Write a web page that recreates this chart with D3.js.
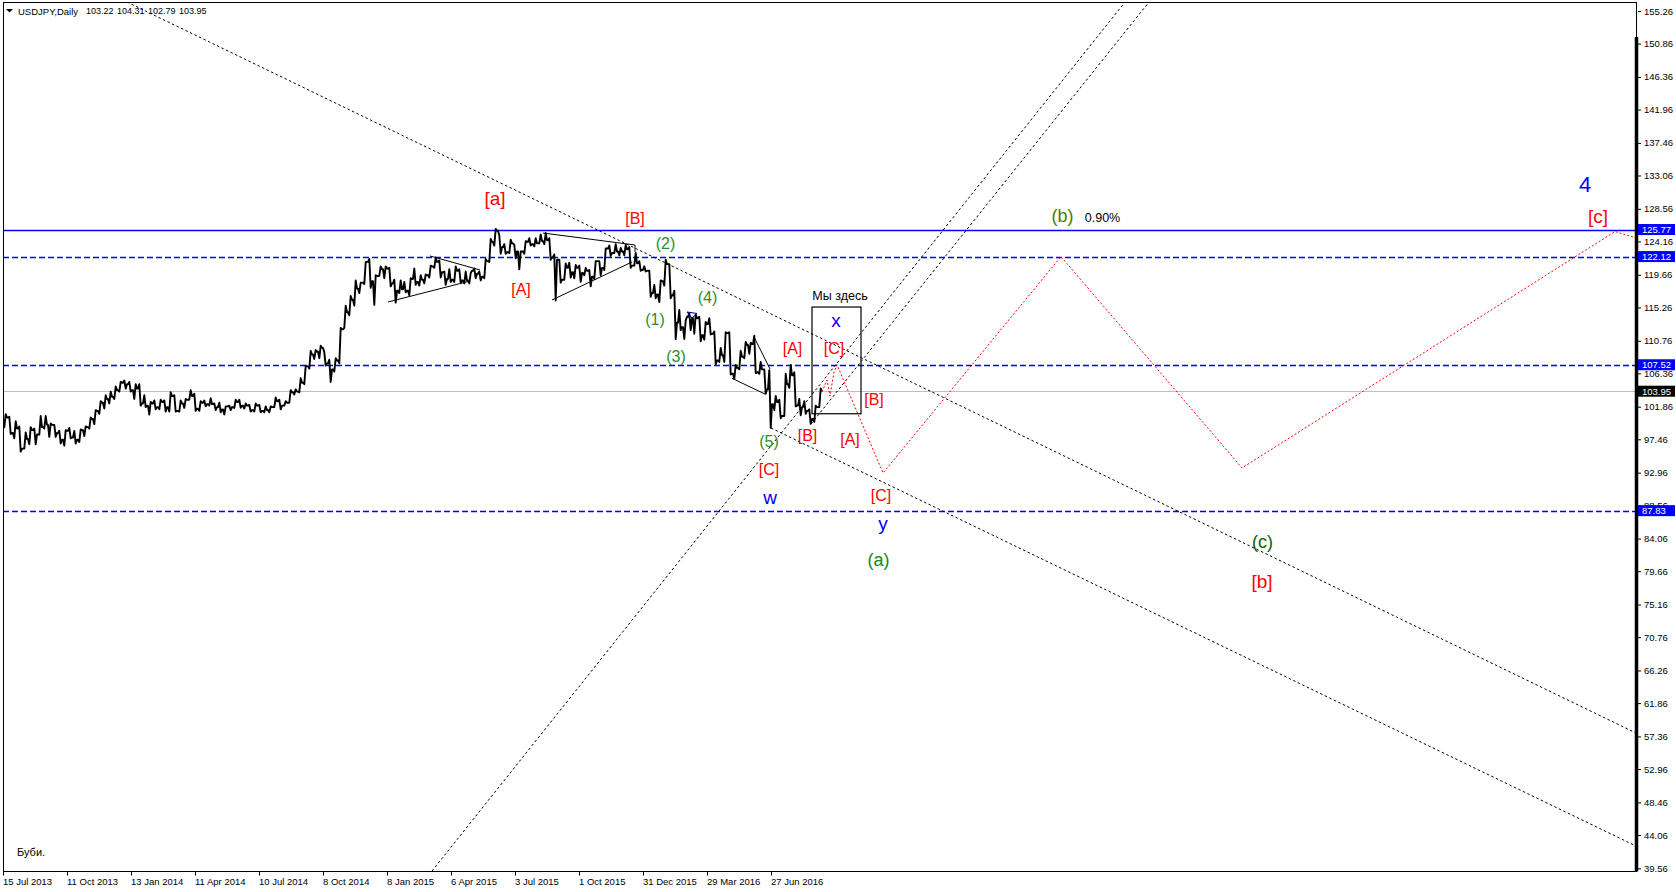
<!DOCTYPE html>
<html><head><meta charset="utf-8">
<script src="https://cdn.jsdelivr.net/npm/d3@7"></script>
<style>
body{margin:0;background:#fff}
svg{display:block}
text{font-family:"Liberation Sans",Arial,sans-serif}
</style>
</head><body>
<svg id="c" width="1676" height="892"></svg>
<script>
// ---------------- DATA ----------------
const symbolTitle = "USDJPY,Daily";
const headerOHLC = ["103.22","104.31","102.79","103.95"];
const firstOpen = 99.3; // open of the first week (15 Jul 2013)
// weekly high / low / close, one entry per week (5 daily bars), from 15 Jul 2013 to 2 Sep 2016
const weekHigh = [
 100.86,100.5,99.9,99.2,98.4,99.1,98.9,100.6,100.6,99.6,99.4,98.6,98.7,99.0,98.6,98.8,99.2,100.4,101.4,102.6,103.4,103.9,104.6,105.2,105.4,
 105.2,104.9,104.9,103.4,102.5,102.7,102.8,102.7,103.8,103.4,102.7,102.9,104.1,103.6,102.6,102.7,103.0,102.3,102.4,101.9,102.0,102.8,102.8,102.3,102.1,102.3,102.1,101.9,101.9,103.1,102.8,102.6,104.1,104.2,105.7,107.4,109.4,109.5,110.1,109.2,108.2,108.4,112.5,115.5,116.8,118.9,118.6,121.4,121.8,119.6,120.8,120.8,
 120.6,119.0,118.9,118.7,119.2,120.5,119.6,119.7,120.9,122.0,121.6,120.1,120.4,120.8,120.4,120.1,119.9,120.5,120.1,121.8,124.5,125.86,125.0,123.8,124.4,123.7,122.8,124.2,124.6,124.6,125.1,125.3,124.6,122.4,121.7,121.2,121.3,121.0,120.9,120.6,120.3,121.5,121.5,123.2,123.6,123.8,123.3,123.7,123.4,122.6,121.5,120.8,
 120.2,118.3,118.9,121.7,121.1,117.5,114.9,113.5,114.5,114.3,114.0,113.3,113.8,112.0,109.8,111.9,111.9,107.5,109.4,110.6,110.5,111.45,107.9,106.9,106.8,103.3,102.8,106.3,107.5,106.5,102.9,102.6,101.5,102.0,104.31
];
const weekLow = [
 99.08,98.2,97.6,95.8,96.2,96.8,96.8,98.1,98.9,97.8,97.8,96.9,96.6,97.6,96.9,97.1,97.9,98.9,99.5,100.9,101.6,102.3,102.9,103.9,104.3,
 103.9,102.9,102.0,101.8,100.8,101.5,101.5,101.2,101.2,101.2,101.2,101.7,102.8,101.3,101.3,101.9,102.0,101.4,101.1,100.8,101.4,101.7,101.7,101.6,101.2,101.2,101.1,101.1,101.1,101.8,101.5,102.0,102.4,103.5,103.8,104.9,107.0,108.3,108.4,107.4,105.2,106.6,107.7,112.5,114.2,115.5,117.2,118.4,117.9,115.6,119.5,119.2,
 118.1,115.9,117.2,117.3,116.9,118.3,118.2,118.5,119.3,120.6,119.3,118.3,118.7,118.7,118.6,118.5,118.5,119.2,118.9,119.2,121.4,123.6,122.5,122.5,122.6,121.9,120.4,122.5,123.6,123.5,123.9,123.8,121.7,116.2,118.6,119.0,119.3,119.2,118.7,119.6,118.1,119.1,119.6,120.3,122.2,122.6,122.3,122.3,120.6,120.9,120.2,120.1,
 116.7,116.5,115.97,118.2,116.5,110.98,112.2,111.0,112.2,111.7,110.7,110.9,111.6,107.6,107.9,107.9,106.2,105.6,106.9,108.4,109.0,106.4,106.3,103.6,99.0,101.4,100.3,100.6,104.4,101.9,100.7,100.9,99.55,99.8,101.8
];
const weekClose = [
 100.4,98.3,98.9,96.2,97.5,98.7,98.1,99.1,99.4,99.4,98.3,97.4,98.6,97.7,97.4,98.7,99.1,100.2,101.3,102.4,102.9,103.2,104.1,105.1,104.9,
 104.1,104.3,102.3,102.0,102.3,101.8,102.5,101.8,103.3,101.3,102.3,102.8,103.3,101.6,102.4,102.2,102.2,101.8,101.5,101.9,101.8,102.5,102.0,102.0,101.4,102.0,101.3,101.4,101.8,102.6,102.0,102.4,103.8,103.9,105.1,107.3,108.9,109.3,109.8,107.7,106.9,108.1,112.3,114.6,116.3,117.8,118.6,121.4,118.8,119.5,120.4,120.5,
 118.5,117.5,117.7,117.5,119.1,118.7,119.0,119.6,120.8,121.4,120.0,119.1,119.0,120.2,118.9,118.9,120.2,119.8,119.4,121.5,124.1,125.6,123.4,122.7,123.9,122.8,122.8,124.1,123.8,123.9,124.2,124.3,122.0,121.7,119.0,120.6,120.0,120.6,119.9,120.2,119.4,121.5,120.6,123.2,122.6,122.8,122.8,123.1,120.9,121.2,120.3,120.2,
 117.2,117.0,118.8,121.1,116.9,113.2,112.6,114.0,113.8,113.8,111.5,113.0,111.7,108.1,108.8,111.8,106.3,107.1,108.6,110.2,110.3,106.5,106.9,104.2,102.2,102.5,100.6,104.9,106.1,102.0,101.8,101.3,100.2,101.8,103.95
];

// price axis tick labels
const priceTicks = [155.26,150.86,146.36,141.96,137.46,133.06,128.56,124.16,119.66,115.26,110.76,106.36,101.86,97.46,92.96,88.56,84.06,79.66,75.16,70.76,66.26,61.86,57.36,52.96,48.46,44.06,39.56];
// time axis: bar index of each label and its text
const timeTickBars = [0,64,128,192,256,320,384,448,512,576,640,704,768];
const timeTickLabels = ["15 Jul 2013","11 Oct 2013","13 Jan 2014","11 Apr 2014","10 Jul 2014","8 Oct 2014","8 Jan 2015","6 Apr 2015","3 Jul 2015","1 Oct 2015","31 Dec 2015","29 Mar 2016","27 Jun 2016"];

// horizontal levels
const mainLevel = 125.77;
const dashLevels = [122.12, 107.52, 87.83];
const bidPrice = 103.95;

// trend lines as [bar, price] pairs
const channelLines = [
  [[124,156.47],[1633,57.82]],
  [[768,98.98],[1633,42.57]],
  [[429,39.20],[1122,156.47]],
  [[808,99.52],[1146,156.47]]
];
const triangleLines = [
  [[427,122.20],[477,120.31]],
  [[385,115.99],[467,118.82]],
  [[540,125.30],[632,123.68]],
  [[549,116.26],[629,121.39]],
  [[632,123.68],[632,122.74]],
  [[751,111.27],[767,106.95]],
  [[729,105.69],[762,103.57]]
];
const smallTriangle = [[684,114.64],[694,114.44],[689,113.83],[684,114.64]];
const hereBox = [[809,115.31],[858,100.91]];
// projected path
const projection = [[819,103.84],[824,105.46],[827,103.30],[831,106.54],[834,107.52],[880,92.91],[1058,122.12],[1239,93.59],[1612,125.5],[1633,124.63]];

// wave labels [text, bar, price]
const primaryLabels = [["[a]",492,130.02],["[b]",1259,78.27],["[c]",1595,127.59]];
const subLabels = [["[B]",632,127.19],["[A]",518,117.61],["[C]",766,93.32],["[A]",789.5,109.71],["[C]",831,109.65],["[B]",804.5,97.97],["[B]",871,102.83],["[A]",847,97.43],["[C]",878,89.81]];
const impulseLabels = [["(1)",652,113.69],["(2)",662.5,123.95],["(3)",673,108.70],["(4)",704.5,116.66],["(5)",766,97.23]];
const intermediateLabels = [["(a)",875.6,81.17],["(b)",1059.5,127.53],["(c)",1259.5,83.60]];
const wxyLabels = [["w",767,89.40],["x",833,113.22],["y",880,85.62]];
const cycleLabels = [["4",1582,131.91]];
const noteLabels = [["Мы здесь",837,116.80],["0.90%",1099.5,127.26]];
const cornerNote = "Буби.";

// ---------------- DRAW ----------------
const svg = d3.select("#c");
const L = 3, R = 1636, T = 2, B = 871;
const x = d3.scaleLinear().domain([0,1633]).range([L,R]);
const y = d3.scaleLinear().domain([39.20,156.475]).range([B,T]);
const line = d3.line().x(d=>x(d[0])).y(d=>y(d[1]));

svg.append("rect").attr("width",1676).attr("height",892).attr("fill","#fff");
svg.append("defs").append("clipPath").attr("id","plot")
  .append("rect").attr("x",L).attr("y",T).attr("width",R-L).attr("height",B-T);
const g = svg.append("g").attr("clip-path","url(#plot)");

// bid line
g.append("line").attr("x1",L).attr("x2",R).attr("y1",Math.round(y(bidPrice))+0.5).attr("y2",Math.round(y(bidPrice))+0.5)
  .attr("stroke","#c0c0c0").attr("stroke-width",1);
// levels
g.append("line").attr("x1",L).attr("x2",R).attr("y1",Math.round(y(mainLevel))+0.5).attr("y2",Math.round(y(mainLevel))+0.5)
  .attr("stroke","#0000ff").attr("stroke-width",1.3);
g.selectAll(".dl").data(dashLevels).enter().append("line")
  .attr("x1",L).attr("x2",R).attr("y1",d=>Math.round(y(d))+0.5).attr("y2",d=>Math.round(y(d))+0.5)
  .attr("stroke","#0000ff").attr("stroke-width",1.3).attr("stroke-dasharray","6,3");

// price path
const pricePts = [];
let o = firstOpen;
weekClose.forEach((c,k)=>{
  const b = 5*k, h = weekHigh[k], l = weekLow[k];
  const up = c >= o;
  pricePts.push([b,o],[b+1.3, up?l:h],[b+2.7, up?h:l],[b+4,c]);
  o = c;
});
g.append("path").attr("d",line(pricePts)).attr("fill","none").attr("stroke","#000")
  .attr("stroke-width",1.9).attr("stroke-linejoin","round");

// dotted trend lines
g.selectAll(".ch").data(channelLines).enter().append("path").attr("d",d=>line(d))
  .attr("fill","none").attr("stroke","#000").attr("stroke-width",1).attr("stroke-dasharray","2.5,2.5");
// solid triangles
g.selectAll(".tr").data(triangleLines).enter().append("path").attr("d",d=>line(d))
  .attr("fill","none").attr("stroke","#000").attr("stroke-width",1);
g.append("path").attr("d",line(smallTriangle)).attr("fill","none").attr("stroke","#000080").attr("stroke-width",1);
// box
g.append("rect").attr("x",x(hereBox[0][0])).attr("y",y(hereBox[0][1]))
  .attr("width",x(hereBox[1][0])-x(hereBox[0][0])).attr("height",y(hereBox[1][1])-y(hereBox[0][1]))
  .attr("fill","none").attr("stroke","#000").attr("stroke-width",1.2);
// projection
g.append("path").attr("d",line(projection)).attr("fill","none").attr("stroke","#ff0000")
  .attr("stroke-width",1).attr("stroke-dasharray","2,2");

// labels
function labels(arr, size, colorFn, dy){
  g.selectAll(null).data(arr).enter().append("text")
    .attr("x",d=>x(d[1])).attr("y",d=>y(d[2])+(dy||0))
    .attr("text-anchor","middle").attr("dominant-baseline","central")
    .attr("font-size",size).attr("fill",colorFn).text(d=>d[0]);
}
labels(primaryLabels,19,()=>"#ff0000");
labels(subLabels,16,()=>"#ff0000");
labels(impulseLabels,16,()=>"#2a8f2a");
const interColor = {"(a)":"#138a13","(b)":"#4a7d00","(c)":"#0b600b"};
labels(intermediateLabels,18,d=>interColor[d[0]]);
labels(wxyLabels.filter(d=>d[0]!=="y"),19,()=>"#0000ff",-2);
labels(wxyLabels.filter(d=>d[0]==="y"),19,()=>"#0000ff",-4);
labels(cycleLabels,22,()=>"#0000ff");
labels(noteLabels,12.5,()=>"#000");

// frame
svg.append("rect").attr("x",L+0.5).attr("y",T+0.5).attr("width",R-L).attr("height",B-T)
  .attr("fill","none").attr("stroke","#000").attr("stroke-width",1);
svg.append("line").attr("x1",R+0.5).attr("x2",R+0.5).attr("y1",37).attr("y2",B+0.5)
  .attr("stroke","#000").attr("stroke-width",3.5);

// right axis
const ay = svg.append("g").attr("transform",`translate(${R+2},0)`)
  .call(d3.axisRight(y).tickValues(priceTicks).tickSize(3).tickPadding(3).tickFormat(d3.format(".2f")));
ay.select(".domain").remove();
ay.selectAll("text").attr("font-size",9.5).attr("font-family","Liberation Sans, Arial, sans-serif").attr("fill","#000");
ay.selectAll("line").attr("stroke","#000");

// value boxes
const boxes = dashLevels.concat([mainLevel]).map(p=>[p,"#0000ff"]).concat([[bidPrice,"#000"]]);
const bg = svg.append("g");
bg.selectAll("rect").data(boxes).enter().append("rect")
  .attr("x",R+2).attr("y",d=>y(d[0])-5.5).attr("width",37).attr("height",11).attr("fill",d=>d[1]);
bg.selectAll("text").data(boxes).enter().append("text")
  .attr("x",R+6).attr("y",d=>y(d[0])).attr("dominant-baseline","central")
  .attr("font-size",9.5).attr("fill","#fff").text(d=>d[0].toFixed(2));

// bottom axis
const ax = svg.append("g").attr("transform",`translate(0,${B+0.5})`)
  .call(d3.axisBottom(x).tickValues(timeTickBars).tickSize(4).tickPadding(3).tickFormat((d,i)=>timeTickLabels[i]));
ax.select(".domain").remove();
ax.selectAll("text").attr("text-anchor","start").attr("dx",-0.5).attr("font-size",9.5)
  .attr("font-family","Liberation Sans, Arial, sans-serif").attr("fill","#000");
ax.selectAll("line").attr("stroke","#000");

// header
svg.append("path").attr("d","M6,9 L13,9 L9.5,12.5 Z").attr("fill","#000");
svg.append("text").attr("x",18).attr("y",11).attr("dominant-baseline","central").attr("font-size",9.5).attr("fill","#000").text(symbolTitle);
headerOHLC.forEach((v,i)=>{
  svg.append("text").attr("x",86+i*31).attr("y",11).attr("dominant-baseline","central").attr("font-size",9).attr("fill","#000").text(v);
});
// corner note
svg.append("text").attr("x",17).attr("y",852).attr("dominant-baseline","central").attr("font-size",11).attr("fill","#000").text(cornerNote);
</script>
</body></html>
